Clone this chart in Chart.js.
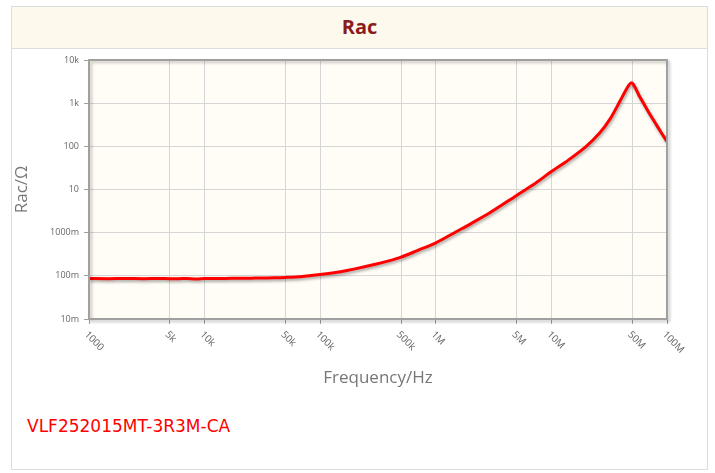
<!DOCTYPE html>
<html>
<head>
<meta charset="utf-8">
<script src="https://cdn.jsdelivr.net/npm/chart.js@4/dist/chart.umd.min.js"></script>
<style>
  body { margin: 0; background: #fff; width: 715px; height: 473px; overflow: hidden; position: relative; }
  #box { position: absolute; left: 11px; top: 6px; width: 697px; height: 464px; border: 1px solid #dcdcdc; box-sizing: border-box; }
  #head { position: absolute; left: 0; top: 0; right: 0; height: 41px; background: #fdf9ec; border-bottom: 1px solid #ddd;
          font: bold 20px "Open Sans", sans-serif; color: #8b1c1c; text-align: center; line-height: 40px; }
  #part { position: absolute; left: 27px; top: 416px; font: 17px "DejaVu Sans", sans-serif; color: #ff0000; }
  #c { position: absolute; left: 0; top: 0; }
</style>
</head>
<body>
<div id="box"><div id="head">Rac</div></div>
<div id="part">VLF252015MT-3R3M-CA</div>
<canvas id="c" width="715" height="473"></canvas>
<script>
// frequency (Hz) and Rac (ohm)
const freq = [1000, 1500, 2000, 3000, 4000, 5000, 6000, 7000, 8500, 10000, 12000, 15000, 20000, 25000, 30000, 40000, 50000,
              70000, 100000, 150000, 200000, 300000, 400000, 500000, 700000, 1e6, 1.5e6, 2e6, 3e6, 5e6, 7e6, 1e7, 1.4e7, 2e7,
              2.6e7, 3.2e7, 3.9e7, 4.4e7, 4.7e7, 4.9e7, 5.1e7, 5.5e7, 5.8e7, 6.8e7, 7.8e7, 8.9e7, 1e8];
const rac = [0.087, 0.086, 0.087, 0.086, 0.087, 0.086, 0.086, 0.087, 0.085, 0.087, 0.087, 0.087, 0.088, 0.088, 0.089, 0.090, 0.092,
             0.097, 0.107, 0.125, 0.145, 0.185, 0.225, 0.27, 0.39, 0.58, 1.05, 1.6, 3.0, 7.3, 13, 26, 48, 100,
             200, 420, 1090, 2000, 2650, 2950, 2750, 1900, 1420, 680, 370, 210, 130];

const yTickVals = [0.01, 0.1, 1, 10, 100, 1000, 10000];
const yTickLabels = ['10m', '100m', '1000m', '10', '100', '1k', '10k'];
const xTickVals = [1000, 5000, 10000, 50000, 100000, 500000, 1e6, 5e6, 1e7, 5e7, 1e8];
const xTickLabels = ['1000', '5k', '10k', '50k', '100k', '500k', '1M', '5M', '10M', '50M', '100M'];

const points = freq.map((f, i) => ({x: f, y: rac[i]}));

const decor = {
  id: 'decor',
  beforeDraw(chart) {
    const a = chart.chartArea, c = chart.ctx;
    c.save();
    c.fillStyle = '#fffdf5';
    c.fillRect(a.left, a.top, a.right - a.left, a.bottom - a.top);
    c.restore();
  },
  beforeDatasetDraw(chart) {
    const c = chart.ctx;
    c.save();
    c.shadowColor = 'rgba(0,0,0,0.35)';
    c.shadowBlur = 3;
    c.shadowOffsetX = 1;
    c.shadowOffsetY = 2;
  },
  afterDatasetDraw(chart) {
    chart.ctx.restore();
  },
  afterDatasetsDraw(chart) {
    const a = chart.chartArea, c = chart.ctx;
    c.save();
    c.shadowColor = 'rgba(0,0,0,0.25)';
    c.shadowBlur = 3;
    c.shadowOffsetX = 2;
    c.shadowOffsetY = 2;
    c.strokeStyle = '#a0a0a0';
    c.lineWidth = 2;
    c.strokeRect(a.left, a.top, a.right - a.left, a.bottom - a.top);
    c.restore();

    // rotated x labels (clockwise)
    const xs = chart.scales.x;
    c.save();
    c.fillStyle = '#666';
    c.font = '10px "Open Sans", sans-serif';
    c.textAlign = 'left';
    c.textBaseline = 'middle';
    xTickVals.forEach((v, i) => {
      const px = xs.getPixelForValue(v);
      c.save();
      c.translate(px - 3, a.bottom + 14);
      c.rotate(Math.PI / 4);
      c.fillText(xTickLabels[i], 0, 0);
      c.restore();
    });
    // axis titles
    c.fillStyle = '#777';
    c.font = '17px "Open Sans", sans-serif';
    c.textAlign = 'center';
    c.fillText('Frequency/Hz', (a.left + a.right) / 2, 378);
    c.save();
    c.translate(22, (a.top + a.bottom) / 2);
    c.rotate(-Math.PI / 2);
    c.fillText('Rac/Ω', 0, 0);
    c.restore();
    c.restore();
  }
};

new Chart(document.getElementById('c'), {
  type: 'line',
  data: {
    datasets: [{
      data: points,
      borderColor: '#ff0000',
      borderWidth: 3,
      pointRadius: 0,
      tension: 0.3,
      fill: false
    }]
  },
  options: {
    responsive: false,
    animation: false,
    devicePixelRatio: 1,
    layout: { padding: { left: 0, top: 60, right: 48, bottom: 0 } },
    plugins: { legend: { display: false }, tooltip: { enabled: false } },
    scales: {
      x: {
        type: 'logarithmic',
        min: 1000,
        max: 1e8,
        afterBuildTicks(s) { s.ticks = xTickVals.map(v => ({value: v})); },
        afterFit(s) { s.height = 473 - 319; },
        ticks: { display: false },
        grid: { color: '#d6d6d6', tickColor: '#a0a0a0', tickLength: 5, drawTicks: true },
        border: { display: false }
      },
      y: {
        type: 'logarithmic',
        min: 0.01,
        max: 10000,
        afterBuildTicks(s) { s.ticks = yTickVals.map(v => ({value: v})); },
        afterFit(s) { s.width = 89; },
        ticks: {
          color: '#666',
          font: { family: 'Open Sans', size: 9 },
          padding: 5,
          callback: (v) => yTickLabels[yTickVals.indexOf(v)] || ''
        },
        grid: { color: '#d6d6d6', tickColor: '#a0a0a0', tickLength: 5 },
        border: { display: false }
      }
    }
  },
  plugins: [decor]
});
</script>
</body>
</html>
